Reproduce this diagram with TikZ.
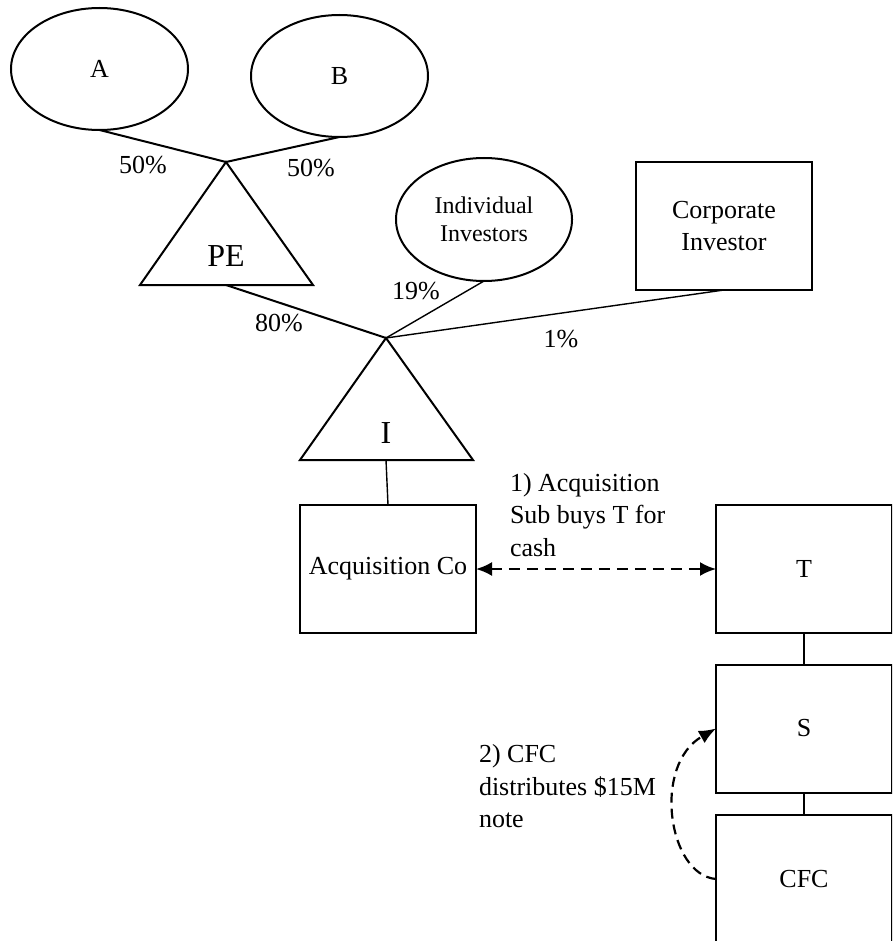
\documentclass[tikz,border=0pt]{standalone}
\usepackage{fontspec}
\setmainfont{Liberation Serif}
\usetikzlibrary{shapes.geometric,arrows.meta}
\begin{document}
\begin{tikzpicture}[x=1pt,y=-1pt,
  every node/.style={font=\fontsize{26}{32.5}\selectfont, inner sep=0pt, outer sep=0pt},
  oval/.style={draw, ellipse, line width=2pt, minimum width=177pt, minimum height=122pt, align=center},
  box/.style={draw, rectangle, line width=2pt, minimum width=176pt, minimum height=128pt, align=center},
  tri/.style={draw, line width=2pt, line join=miter},
  big/.style={font=\fontsize{32}{38}\selectfont},
  link/.style={line width=2pt},
  thinlink/.style={line width=1.4pt},
  flow/.style={line width=2.2pt, dash pattern=on 11pt off 7pt,
    {Latex[length=16pt,width=14pt]}-{Latex[length=16pt,width=14pt]}},
  curveflow/.style={line width=2.2pt, dash pattern=on 10pt off 6pt,
    -{Latex[length=17pt,width=14pt]}},
]
\useasboundingbox (0,0) rectangle (892,941);
\clip (0,0) rectangle (892,941);

% owners
\node[oval] (A) at (99.5,69) {A};
\node[oval] (B) at (339.5,76) {B};

% PE triangle
\coordinate (PEtop) at (226,162);
\coordinate (PEl) at (140,285);
\coordinate (PEr) at (313,285);
\coordinate (PEbase) at (226,285);
\draw[tri] (PEtop) -- (PEr) -- (PEl) -- cycle;
\node[big] (PE) at (226,256) {PE};

% investors
\node[oval, minimum width=176pt, minimum height=123pt, font=\fontsize{24}{28.5}\selectfont] (Ind) at (484,219.5) {Individual\\Investors};
\node[box] (Corp) at (724,226) {Corporate\\Investor};

% I triangle
\coordinate (Itop) at (386,338);
\coordinate (Il) at (300,460);
\coordinate (Ir) at (473,460);
\coordinate (Ibase) at (386,460);
\draw[tri] (Itop) -- (Ir) -- (Il) -- cycle;
\node[big] (I) at (386,433) {I};

% companies
\node[box] (Acq) at (388,569) {Acquisition Co};
\node[box] (T) at (804,569) {T};
\node[box] (S) at (804,728.5) {S};
\node[box] (CFC) at (804,879) {CFC};

% ownership lines
\draw[link] (A.south) -- (PEtop);
\draw[link] (B.south) -- (PEtop);
\draw[link] (PEbase) -- (Itop);
\draw[thinlink] (Ind.south) -- (Itop);
\draw[thinlink] (Corp.south) -- (Itop);
\draw[thinlink] (Ibase) -- (Acq.north);
\draw[thinlink] (T.south) -- (S.north);
\draw[thinlink] (S.south) -- (CFC.north);

% percentages
\node (p1) at (143,165) {50\%};
\node (p2) at (311,168) {50\%};
\node (p3) at (279,323) {80\%};
\node (p4) at (416,291) {19\%};
\node (p5) at (561,339) {1\%};

% transactions
\draw[flow] (Acq.east) -- (T.west);
\node[align=left, anchor=west] (n1) at (510,515) {1) Acquisition\\Sub buys T for\\cash};

\draw[curveflow] (CFC.west) .. controls (668,875) and (652,765) .. (S.west);
\node[align=left, anchor=west] (n2) at (479,786.5) {2) CFC\\distributes \$15M\\note};
\end{tikzpicture}
\end{document}
